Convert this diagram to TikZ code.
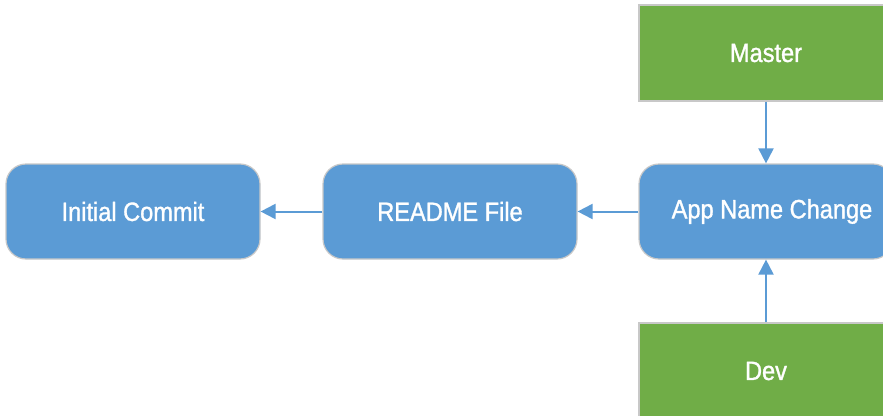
\documentclass[tikz,border=0pt]{standalone}
\usepackage{fontspec}
\setmainfont{Liberation Sans}[FakeStretch=0.89,FakeBold=1.2]
\usetikzlibrary{arrows.meta}
\definecolor{boxblue}{HTML}{5B9BD5}
\definecolor{boxgreen}{HTML}{70AD47}
\definecolor{edgegrey}{HTML}{C8C8C8}
\begin{document}
\begin{tikzpicture}[x=1pt,y=-1pt,
  commit/.style={draw=edgegrey, line width=1.2pt, fill=boxblue, rounded corners=20pt,
    minimum width=254pt, minimum height=95pt, text=white, font=\fontsize{26.5}{30}\selectfont, inner sep=0pt},
  branch/.style={draw=edgegrey, line width=1.2pt, fill=boxgreen,
    minimum width=254pt, minimum height=96pt, text=white, font=\fontsize{26.5}{30}\selectfont, inner sep=0pt},
  link/.style={draw=boxblue, line width=2pt, -{Triangle[length=15pt,width=15pt]}}]
\clip (0,0) rectangle (883,415);
\fill[white] (0,0) rectangle (883,415);
\node[commit] (init) at (133,211.5) {Initial Commit};
\node[commit] (readme) at (450,211.5) {README File};
\node[commit] (app) at (766,211.5) {\hspace{12pt}App Name Change};
\node[branch] (master) at (766,53) {Master};
\node[branch] (dev) at (766,371) {Dev};
\draw[link] (readme.west) -- (init.east);
\draw[link] (app.west) -- (readme.east);
\draw[link] (master.south) -- (app.north);
\draw[link] (dev.north) -- (app.south);
\end{tikzpicture}
\end{document}
